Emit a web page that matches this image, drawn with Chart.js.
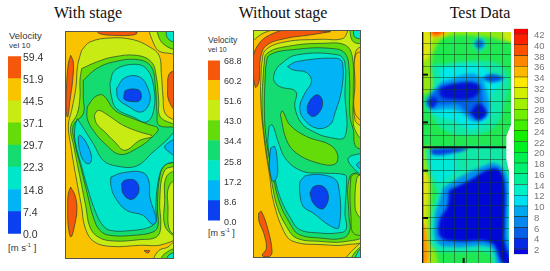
<!DOCTYPE html>
<html>
<head>
<meta charset="utf-8">
<title>Velocity contours</title>
<script src="https://cdn.jsdelivr.net/npm/chart.js@4"></script>
<style>
  body { margin: 0; background: #fff; width: 550px; height: 271px; overflow: hidden; position: relative; }
  canvas { position: absolute; }
  .title { position: absolute; top: 4px; width: 120px; text-align: center; font: 16px "Liberation Serif", serif; color: #111; }
  .lab { position: absolute; font-family: "Liberation Sans", Arial, sans-serif; color: #333; white-space: nowrap; line-height: 1; }
  .lab sup { font-size: 60%; line-height: 0; }
  .soft { filter: blur(0.5px); }
  #heatBox { position: absolute; left: 422px; top: 32px; width: 89px; height: 231px; overflow: hidden; }
</style>
</head>
<body>
<div class="title" style="left:28px">With stage</div>
<div class="title" style="left:223px">Without stage</div>
<div class="title" style="left:420px">Test Data</div>

<div class="lab" style="left:9px;top:31px;font-size:9.5px">Velocity</div>
<div class="lab" style="left:9px;top:42px;font-size:8px">vel 10</div>
<div class="lab" style="left:8px;top:243px;font-size:9.5px">[m s<sup>-1</sup> ]</div>

<div class="lab" style="left:208px;top:36px;font-size:8.5px">Velocity</div>
<div class="lab" style="left:208px;top:46px;font-size:7px">vel 10</div>
<div class="lab" style="left:208px;top:229px;font-size:9px">[m s<sup>-1</sup> ]</div>

<div id="heatBox"></div>

<script>
// ---------- COLOUR BAR VALUES ----------
const withStageLevels = [0, 7.4, 14.8, 22.3, 29.7, 37.1, 44.5, 51.9, 59.4];
const withoutStageLevels = [0, 8.6, 17.2, 25.8, 34.4, 43.0, 51.6, 60.2, 68.8];
const testLevels = [1, 2, 4, 6, 8, 10, 12, 14, 16, 18, 20, 22, 24, 26, 28, 30, 32, 34, 36, 38, 40, 42, 43];
const testTicks = [2, 4, 6, 8, 10, 12, 14, 16, 18, 20, 22, 24, 26, 28, 30, 32, 34, 36, 38, 40, 42];

const bandColors = ["#0a40f0", "#00b4f5", "#00e6c8", "#14dc70", "#64dc0a", "#c8eb14", "#fac300", "#f5580a"];
const testColors = ["#0808e0", "#0828e8", "#0860e8", "#0888ee", "#00a8f0", "#00e0f0", "#00f0c8", "#00f098", "#00f070",
  "#00f050", "#00f020", "#10f000", "#40f000", "#70f000", "#a0f000", "#d0f000", "#ffe800", "#ffb800", "#ff8800", "#ff5000", "#ff2000", "#ff0000"];

const BLUE = 0, SKY = 1, TEAL = 2, GREEN = 3, LIME = 4, YELLOW = 5, ORANGE = 6, RED = 7;

// ---------- WITH STAGE (chamber coords) ----------
const withStageX = [198, 520];
const withStageY = [95, 773];

const wsTopRed = [[285, 88], [375, 88], [412, 97], [400, 104], [340, 105], [300, 100]];
const wsLeftRed = [[212, 165], [220, 185], [218, 240], [210, 300], [203, 350], [198, 330], [200, 250], [205, 190]];
const wsRightRed = [[528, 208], [508, 222], [504, 260], [507, 300], [528, 328]];
const wsLowRed = [[212, 560], [225, 585], [231, 625], [225, 670], [213, 710], [205, 680], [203, 620], [205, 580]];
const wsBottomRed = [[433, 751], [450, 751], [443, 758]];
const wsYellow = [[245, 150], [270, 125], [330, 113], [400, 118], [450, 140], [478, 165], [485, 220], [490, 290], [497, 340], [535, 375], [535, 700], [490, 732], [420, 735], [330, 738], [280, 722], [255, 680], [245, 620], [228, 530], [213, 440], [205, 375], [215, 330], [228, 260], [233, 195]];
const wsLime = [[245, 205], [290, 185], [340, 170], [410, 165], [455, 185], [470, 230], [477, 300], [482, 350], [535, 385], [535, 490], [495, 510], [480, 600], [483, 680], [470, 710], [420, 718], [340, 722], [295, 710], [270, 680], [258, 620], [240, 530], [222, 440], [212, 380], [232, 340], [240, 290], [240, 240]];
const wsGreen = [[250, 240], [290, 205], [340, 185], [415, 178], [455, 200], [467, 260], [472, 340], [478, 375], [535, 388], [535, 478], [495, 495], [480, 530], [473, 620], [475, 675], [460, 695], [400, 705], [330, 705], [300, 690], [280, 650], [262, 580], [245, 510], [225, 430], [220, 375], [250, 340], [250, 290]];
const wsMidLime = [[262, 320], [285, 290], [310, 285], [345, 330], [400, 355], [445, 372], [475, 385], [455, 412], [410, 445], [360, 462], [315, 430], [280, 390], [262, 355]];
const wsMidYellow = [[283, 345], [295, 330], [325, 345], [370, 375], [420, 395], [458, 408], [420, 420], [375, 450], [345, 425], [315, 395], [290, 370]];
const wsTopTeal = [[330, 250], [345, 210], [400, 192], [440, 205], [462, 260], [462, 330], [440, 365], [400, 350], [350, 325], [335, 290]];
const wsTopSky = [[350, 265], [375, 232], [420, 230], [445, 265], [450, 305], [425, 335], [385, 318], [355, 295]];
const wsTopBlue = [[372, 285], [378, 270], [415, 268], [425, 285], [418, 302], [385, 302], [372, 295]];
const wsLowTeal = [[232, 355], [245, 375], [280, 430], [310, 480], [350, 497], [410, 497], [460, 455], [495, 425], [535, 390], [535, 475], [495, 495], [478, 530], [468, 620], [470, 660], [450, 680], [400, 690], [330, 690], [305, 670], [285, 630], [265, 570], [248, 510], [225, 420], [225, 380]];
const wsEdgeSky = [[535, 410], [505, 428], [495, 440], [508, 455], [535, 468]];
const wsLeftSky = [[235, 410], [240, 405], [258, 425], [275, 470], [268, 490], [250, 480], [237, 440]];
const wsLowSky = [[333, 530], [370, 517], [430, 517], [448, 545], [450, 590], [470, 660], [458, 672], [430, 645], [380, 630], [345, 590], [333, 555]];
const wsLowBlue = [[365, 550], [375, 540], [405, 540], [418, 565], [408, 590], [390, 597], [370, 580]];
const wsEdgeLime = [[535, 505], [500, 530], [495, 600], [497, 680], [535, 705]];
const wsEdgeYellow = [[535, 530], [507, 560], [505, 620], [510, 690], [535, 700]];
const wsCornerYellow = [[445, 85], [535, 85], [535, 155], [500, 158], [475, 150], [460, 125]];
const wsCornerLime = [[468, 85], [535, 85], [535, 145], [490, 130]];
const wsCornerTeal = [[498, 85], [535, 85], [535, 125], [505, 115]];
const wsFootYellow = [[455, 785], [478, 750], [505, 740], [535, 715], [535, 785]];
const wsFootLime = [[478, 785], [495, 760], [535, 745], [535, 785]];
const wsFootTeal = [[495, 785], [510, 762], [535, 758], [535, 785]];

const withStageRegions = [
  [wsYellow, YELLOW], [wsLime, LIME], [wsGreen, GREEN], [wsMidLime, LIME], [wsMidYellow, YELLOW],
  [wsTopTeal, TEAL], [wsTopSky, SKY], [wsTopBlue, BLUE], [wsLowTeal, TEAL], [wsEdgeSky, SKY],
  [wsLeftSky, SKY], [wsLowSky, SKY], [wsLowBlue, BLUE], [wsEdgeLime, LIME], [wsEdgeYellow, YELLOW],
  [wsCornerYellow, YELLOW], [wsCornerLime, LIME], [wsCornerTeal, TEAL],
  [wsFootYellow, YELLOW], [wsFootLime, LIME], [wsFootTeal, TEAL],
  [wsTopRed, RED], [wsLeftRed, RED], [wsRightRed, RED], [wsLowRed, RED], [wsBottomRed, RED]
];

// ---------- WITHOUT STAGE ----------
const withoutStageX = [193, 510];
const withoutStageY = [93, 772];

const nsCornerYellow = [[183, 83], [262, 83], [220, 100], [183, 122]];
const nsYellow = [[215, 195], [228, 150], [290, 125], [390, 118], [460, 115], [480, 85], [525, 85], [525, 128], [497, 155], [495, 250], [495, 360], [525, 395], [525, 715], [470, 735], [400, 735], [310, 725], [280, 690], [250, 600], [240, 530], [225, 430], [213, 300]];
const nsLime = [[222, 200], [232, 160], [300, 138], [400, 130], [465, 135], [487, 170], [490, 280], [490, 370], [500, 400], [525, 440], [525, 700], [470, 725], [390, 725], [320, 715], [290, 680], [262, 620], [245, 540], [228, 440], [217, 320]];
const nsGreen = [[228, 200], [240, 165], [320, 148], [420, 145], [465, 160], [478, 220], [480, 350], [490, 390], [497, 440], [525, 455], [525, 510], [480, 530], [477, 650], [480, 690], [460, 715], [390, 715], [325, 703], [300, 670], [270, 610], [250, 530], [230, 420], [224, 320]];
const nsTopTeal = [[255, 215], [270, 195], [320, 165], [445, 165], [465, 190], [465, 280], [465, 410], [415, 412], [370, 395], [335, 370], [315, 320], [318, 275], [270, 260], [252, 240]];
const nsTopSky = [[293, 200], [320, 185], [440, 175], [458, 190], [455, 270], [435, 340], [420, 375], [380, 385], [340, 355], [330, 320], [345, 280], [365, 245], [350, 218], [310, 210]];
const nsTopBlue = [[352, 320], [365, 295], [385, 285], [398, 305], [390, 335], [370, 350], [355, 340]];
const nsMidLime = [[272, 345], [278, 333], [300, 375], [350, 410], [420, 435], [443, 465], [435, 493], [385, 490], [320, 460], [290, 420]];
const nsLowTeal = [[238, 380], [248, 375], [265, 425], [290, 480], [340, 515], [400, 520], [465, 525], [470, 540], [465, 640], [468, 690], [440, 700], [390, 700], [330, 690], [305, 660], [270, 590], [250, 510], [235, 440]];
const nsEdgeTeal = [[525, 458], [475, 475], [495, 510], [525, 528]];
const nsEdgeSky = [[525, 478], [500, 495], [525, 512]];
const nsLeftSky = [[243, 445], [255, 440], [263, 490], [262, 530], [250, 545], [240, 510], [240, 470]];
const nsLowSky = [[330, 545], [350, 527], [420, 530], [445, 555], [447, 683], [420, 678], [370, 640], [340, 620], [330, 580]];
const nsLowBlue = [[360, 580], [372, 560], [400, 560], [415, 585], [410, 615], [395, 628], [370, 610]];
const nsEdgeLime = [[483, 530], [497, 522], [525, 540], [525, 700], [490, 700], [483, 650], [480, 580]];
const nsEdgeYellow = [[497, 555], [505, 528], [525, 535], [525, 660], [500, 640], [495, 600]];
const nsRightOrange = [[525, 152], [497, 165], [495, 250], [495, 340], [525, 362]];
const nsCornerLime = [[478, 83], [525, 83], [525, 125], [490, 125]];
const nsCornerTeal = [[490, 83], [525, 83], [525, 112], [495, 112]];
const nsFootYellow = [[458, 785], [495, 745], [525, 725], [525, 785]];
const nsFootLime = [[478, 785], [500, 752], [525, 738], [525, 785]];
const nsFootTeal = [[490, 785], [510, 748], [525, 745], [525, 785]];
const nsTopRed = [[422, 95], [300, 88], [240, 105], [205, 135], [190, 180], [197, 262], [208, 245], [213, 170], [232, 135], [290, 115], [360, 105]];
const nsLowRed = [[207, 640], [215, 635], [235, 690], [247, 755], [240, 770], [218, 768], [230, 745], [222, 700], [208, 665]];

const withoutStageRegions = [
  [nsCornerYellow, YELLOW], [nsYellow, YELLOW], [nsLime, LIME], [nsGreen, GREEN], [nsTopTeal, TEAL], [nsTopSky, SKY],
  [nsTopBlue, BLUE], [nsMidLime, LIME], [nsLowTeal, TEAL], [nsEdgeTeal, TEAL], [nsEdgeSky, SKY], [nsLeftSky, SKY],
  [nsLowSky, SKY], [nsLowBlue, BLUE], [nsEdgeLime, LIME], [nsEdgeYellow, YELLOW], [nsRightOrange, ORANGE],
  [nsCornerLime, LIME], [nsCornerTeal, TEAL], [nsFootYellow, YELLOW], [nsFootLime, LIME], [nsFootTeal, TEAL],
  [nsTopRed, RED], [nsLowRed, RED]
];

// ---------- TEST DATA ----------
const testX = [97, 364];
const testY = [97, 790];
const testGridX = [123, 160, 195, 230, 267, 302, 337];
const testGridY = [130, 165, 200, 234, 269, 304, 339, 374, 408, 443, 478, 513, 547, 582, 617, 652, 687, 722, 756];
const testBleed = 12; // blur needs colour past the panel edge

const tdLimeTop = [[75, 75], [385, 75], [385, 125], [345, 125], [300, 112], [170, 112], [135, 150], [125, 200], [125, 270], [75, 280]];
const tdYellowTop = [[75, 75], [185, 75], [165, 108], [130, 118], [118, 170], [75, 190]];
const tdOrangeTop = [[118, 75], [175, 75], [160, 106], [125, 108]];
const tdRedTop = [[128, 75], [165, 75], [150, 101], [130, 101]];
const tdYellowRight = [[335, 75], [385, 75], [385, 130], [345, 115]];
const tdLimeLeft = [[75, 445], [128, 445], [125, 560], [128, 700], [140, 810], [75, 810]];
const tdYellowLeft = [[75, 500], [113, 530], [110, 650], [116, 810], [75, 810]];
const tdOrangeLeft = [[75, 660], [106, 680], [110, 810], [75, 810]];
const tdUpTeal = [[125, 195], [300, 185], [355, 225], [345, 310], [320, 375], [260, 405], [170, 395], [125, 345], [108, 310], [130, 260]];
const tdUpCyan = [[150, 205], [260, 195], [310, 222], [345, 238], [305, 290], [305, 345], [250, 388], [195, 365], [130, 340], [115, 305], [150, 250]];
const tdUpSky = [[158, 245], [260, 225], [295, 290], [292, 350], [250, 365], [210, 335], [170, 328], [125, 330], [108, 305]];
const tdUpMid = [[150, 258], [260, 248], [280, 300], [275, 345], [240, 345], [205, 315], [150, 315], [115, 305]];
const tdUpBlue = [[150, 265], [190, 252], [262, 252], [268, 278], [240, 298], [185, 298], [155, 292]];
const tdDotBlue = [[240, 340], [268, 312], [292, 340], [266, 362]];
const tdTipBlue = [[112, 305], [135, 292], [142, 310], [125, 326]];
const tdRightDot = [[275, 236], [305, 224], [342, 236], [305, 248]];
const tdTopHalo = [[245, 132], [268, 108], [292, 132], [268, 158]];
const tdTopDot = [[254, 132], [268, 118], [284, 132], [268, 148]];
const tdLowHalo = [[105, 447], [350, 447], [355, 500], [300, 500], [195, 545], [170, 600], [125, 540]];
const tdLowCyan = [[122, 447], [195, 447], [200, 490], [205, 530], [165, 560], [130, 525], [120, 490]];
const tdStreak = [[122, 447], [232, 447], [190, 460], [130, 465]];
const tdBlobHalo = [[150, 550], [210, 515], [280, 485], [330, 480], [362, 530], [375, 810], [320, 810], [295, 760], [200, 758], [130, 745], [122, 660], [138, 595]];
const tdBlobSky = [[160, 565], [215, 530], [280, 500], [320, 492], [352, 530], [355, 650], [355, 715], [375, 790], [330, 810], [305, 745], [200, 742], [143, 730], [135, 660], [150, 600]];
const tdBlobBlue = [[178, 572], [240, 542], [290, 512], [325, 508], [345, 550], [345, 680], [345, 725], [362, 790], [338, 790], [305, 730], [200, 725], [152, 712], [150, 660], [172, 622]];

const testRegions = [
  [tdLimeTop, "#90e810"], [tdYellowTop, "#e0e810"], [tdOrangeTop, "#ff9800"], [tdRedTop, "#ff4000"], [tdYellowRight, "#d0e810"],
  [tdLimeLeft, "#90e810"], [tdYellowLeft, "#e8e010"], [tdOrangeLeft, "#ff9800"],
  [tdUpTeal, "#10e8a8"], [tdUpCyan, "#00e8e8"], [tdUpSky, "#0098f0"], [tdUpMid, "#0060e8"], [tdUpBlue, "#0410d4"], [tdDotBlue, "#0410d4"],
  [tdTipBlue, "#0420dc"], [tdRightDot, "#0050e4"], [tdTopHalo, "#10e8a8"], [tdTopDot, "#0070e8"],
  [tdLowHalo, "#10e8a8"], [tdLowCyan, "#00e8d8"], [tdStreak, "#0840e0"],
  [tdBlobHalo, "#10e8b0"], [tdBlobSky, "#0090f0"], [tdBlobBlue, "#0008d8"]
];

const tdLeftEdge = [[98, 97], [98, 790]];
const tdStubs = [
  [[97, 225], [115, 225]], [[97, 368], [115, 368]], [[97, 513], [115, 513]], [[97, 655], [115, 655]],
  [[97, 443], [350, 443]], [[222, 775], [222, 790]], [[360, 775], [360, 790]]
];
const tdNotch = [[364, 375], [350, 410], [350, 480], [358, 515], [358, 790], [364, 790]];

// ---------- HELPERS ----------
function addCanvas(left, top, width, height, parent) {
  const c = document.createElement("canvas");
  c.width = width;
  c.height = height;
  c.style.left = left + "px";
  c.style.top = top + "px";
  (parent || document.body).appendChild(c);
  return c;
}

function toPoints(pts) {
  const out = pts.map(p => ({ x: p[0], y: p[1] }));
  out.push({ x: pts[0][0], y: pts[0][1] }); // close the loop
  return out;
}

function rect(xr, yr) {
  return [[xr[0], yr[0]], [xr[1], yr[0]], [xr[1], yr[1]], [xr[0], yr[1]]];
}

function regionDataset(pts, color, lineColor, tension) {
  return {
    type: "scatter",
    data: toPoints(pts),
    showLine: true,
    fill: "shape",
    backgroundColor: color,
    borderColor: lineColor,
    borderWidth: lineColor ? 0.8 : 0,
    pointRadius: 0,
    tension: tension,
    capBezierPoints: false
  };
}

const baseOptions = {
  responsive: false,
  animation: false,
  events: [],
  layout: { padding: 0 },
  plugins: { legend: { display: false }, tooltip: { enabled: false } }
};

function hiddenScales(xr, yr) {
  return {
    x: { type: "linear", min: xr[0], max: xr[1], display: false },
    y: { type: "linear", min: yr[0], max: yr[1], reverse: true, display: false }
  };
}

// Regions are listed outside-in, Chart.js paints the last dataset first
function contourPanel(canvas, xr, yr, background, regions) {
  const sets = [regionDataset(rect(xr, yr), background, null, 0)];
  regions.forEach(r => sets.push(regionDataset(r[0], bandColors[r[1]], "rgba(30,60,50,0.85)", 0.4)));
  return new Chart(canvas, {
    type: "scatter",
    data: { datasets: sets.reverse() },
    options: { ...baseOptions, scales: hiddenScales(xr, yr) }
  });
}

function colorBar(canvas, levels, colors, ticks, axisWidth, tickOpts) {
  const sets = colors.map((color, i) => ({
    data: [[levels[i], levels[i + 1]]],
    backgroundColor: color,
    borderColor: tickOpts.lineColor || color,
    borderWidth: tickOpts.lineColor ? 0.6 : 0,
    borderSkipped: false,
    grouped: false,
    barPercentage: 1,
    categoryPercentage: 1
  }));
  return new Chart(canvas, {
    type: "bar",
    data: { labels: [""], datasets: sets },
    options: {
      ...baseOptions,
      layout: { padding: { top: 8, bottom: 8 } },
      scales: {
        x: { display: false },
        y: {
          type: "linear",
          position: "right",
          min: levels[0],
          max: levels[levels.length - 1],
          grid: { display: false, drawTicks: false },
          border: { display: false },
          afterBuildTicks: axis => { axis.ticks = ticks.map(v => ({ value: v })); },
          afterFit: axis => { axis.width = axisWidth; },
          ticks: {
            autoSkip: false,
            padding: tickOpts.padding,
            labelOffset: 1.5,
            color: tickOpts.color,
            font: tickOpts.font,
            callback: tickOpts.format
          }
        }
      }
    }
  });
}

// ---------- DRAW ----------
const sans = '"Liberation Sans", Arial, sans-serif';
const oneDecimal = v => v.toFixed(1);

colorBar(addCanvas(8, 48, 40, 194), withStageLevels, bandColors, withStageLevels, 27,
  { padding: 2, color: "#333", font: { family: sans, size: 10.5 }, format: oneDecimal });
colorBar(addCanvas(208, 51, 38, 179), withoutStageLevels, bandColors, withoutStageLevels, 26,
  { padding: 4, color: "#333", font: { family: sans, size: 9 }, format: oneDecimal });
colorBar(addCanvas(514, 17, 36, 249), testLevels, testColors, testTicks, 22,
  { padding: 6, color: "#777", font: { family: sans, size: 9.5 }, format: v => String(v), lineColor: "#223322" });

const withPanel = addCanvas(66, 32, 107, 226);
withPanel.className = "soft";
withPanel.style.outline = "1px solid #555";
contourPanel(withPanel, withStageX, withStageY, bandColors[ORANGE], withStageRegions);

const withoutPanel = addCanvas(254, 31, 106, 226);
withoutPanel.className = "soft";
withoutPanel.style.outline = "1px solid #555";
contourPanel(withoutPanel, withoutStageX, withoutStageY, bandColors[ORANGE], withoutStageRegions);

// Test data: soft colour layer, sharp grid layer on top
const heatX = [testX[0] - testBleed, testX[1] + testBleed];
const heatY = [testY[0] - testBleed, testY[1] + testBleed];
const heatCanvas = addCanvas(-4, -4, 97, 239, document.getElementById("heatBox"));
heatCanvas.style.filter = "blur(1.6px)";
const heatSets = [regionDataset(rect(heatX, heatY), "#20e850", null, 0)];
testRegions.forEach(r => heatSets.push(regionDataset(r[0], r[1], null, 0.4)));
new Chart(heatCanvas, {
  type: "scatter",
  data: { datasets: heatSets.reverse() },
  options: { ...baseOptions, scales: hiddenScales(heatX, heatY) }
});

const notchPlugin = {
  id: "notch",
  afterDraw(chart) {
    const { ctx, scales } = chart;
    ctx.save();
    ctx.beginPath();
    tdNotch.forEach(p => ctx.lineTo(scales.x.getPixelForValue(p[0]), scales.y.getPixelForValue(p[1])));
    ctx.closePath();
    ctx.fillStyle = "#fff";
    ctx.fill();
    ctx.restore();
  }
};

const blackLine = pts => ({
  data: pts.map(p => ({ x: p[0], y: p[1] })),
  showLine: true,
  borderColor: "#111",
  borderWidth: 2,
  pointRadius: 0
});

const gridColor = "rgba(20,60,30,0.5)";
const gridCanvas = addCanvas(422, 32, 89, 231);
gridCanvas.style.filter = "blur(0.5px)";
new Chart(gridCanvas, {
  type: "scatter",
  data: { datasets: [blackLine(tdLeftEdge)].concat(tdStubs.map(blackLine)) },
  options: {
    ...baseOptions,
    scales: {
      x: {
        type: "linear", min: testX[0], max: testX[1],
        grid: { color: gridColor, lineWidth: 1, drawTicks: false },
        border: { display: false },
        ticks: { display: false },
        afterBuildTicks: axis => { axis.ticks = testGridX.map(v => ({ value: v })); }
      },
      y: {
        type: "linear", min: testY[0], max: testY[1], reverse: true,
        grid: { color: gridColor, lineWidth: 1, drawTicks: false },
        border: { display: false },
        ticks: { display: false },
        afterBuildTicks: axis => { axis.ticks = testGridY.map(v => ({ value: v })); }
      }
    }
  },
  plugins: [notchPlugin]
});
</script>
</body>
</html>
